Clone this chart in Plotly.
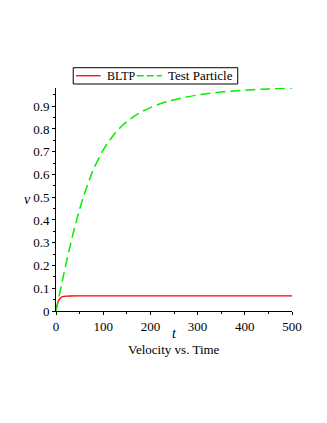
import plotly.graph_objects as go

# velocity readings, test particle (green dashed)
t_test = [0, 5, 10, 15, 20, 30, 40, 50, 60, 70, 80, 100, 120, 140, 160, 180,
          200, 230, 260, 300, 350, 400, 450, 500]
v_test = [0, 0.05, 0.10, 0.148, 0.196, 0.287, 0.371, 0.447, 0.514, 0.573, 0.625,
          0.707, 0.768, 0.814, 0.848, 0.874, 0.894, 0.917, 0.933, 0.949, 0.962,
          0.970, 0.976, 0.980]

# velocity readings, BLTP (red solid)
t_bltp = [0, 1, 2, 3, 5, 7, 10, 13, 16, 20, 25, 30, 40, 60, 100, 200, 300, 400, 500]
v_bltp = [0, 0.012, 0.022, 0.031, 0.043, 0.051, 0.058, 0.062, 0.064, 0.0652,
          0.0658, 0.066, 0.0662, 0.0663, 0.0663, 0.0663, 0.0663, 0.0663, 0.0663]

serif = "Liberation Serif, Times New Roman, serif"
red = '#ff0000'
green = '#00ee00'
dash = '10px,5px'

fig = go.Figure()
fig.add_trace(go.Scatter(x=t_bltp, y=v_bltp, mode='lines', name='BLTP',
                         line=dict(color=red, width=1.3, shape='spline')))
fig.add_trace(go.Scatter(x=t_test, y=v_test, mode='lines', name='Test Particle',
                         line=dict(color=green, width=1.5, dash=dash, shape='spline')))

# hand-drawn legend box (Maple style, tight)
shapes = [
    dict(type='rect', xref='paper', yref='paper', x0=0.073, x1=0.770, y0=1.018, y1=1.091,
         line=dict(color='black', width=1), fillcolor='white'),
    dict(type='line', xref='paper', yref='paper', x0=0.085, x1=0.189, y0=1.055, y1=1.055,
         line=dict(color=red, width=1.3)),
    dict(type='line', xref='paper', yref='paper', x0=0.342, x1=0.448, y0=1.055, y1=1.055,
         line=dict(color=green, width=1.5, dash='7px,3px')),
]

fig.update_layout(
    width=327, height=423,
    margin=dict(l=48, r=43, t=80, b=120),
    paper_bgcolor='white', plot_bgcolor='white',
    font=dict(family=serif, size=13, color='black'),
    showlegend=False,
    shapes=shapes,
    xaxis=dict(range=[0, 500], tick0=0, dtick=100, showgrid=False, zeroline=False,
               showline=True, linecolor='black', linewidth=1,
               ticks='outside', ticklen=3, tickcolor='black',
               minor=dict(dtick=50, ticks='outside', ticklen=2, tickcolor='black'),
               tickfont=dict(family=serif, size=13)),
    yaxis=dict(range=[0, 0.98], tick0=0, dtick=0.1, showgrid=False, zeroline=False,
               showline=True, linecolor='black', linewidth=1,
               ticks='outside', ticklen=3, tickcolor='black',
               minor=dict(dtick=0.05, ticks='outside', ticklen=2, tickcolor='black'),
               tickfont=dict(family=serif, size=13)),
    annotations=[
        dict(text='BLTP', xref='paper', yref='paper', x=0.209, y=1.055,
             xanchor='left', yanchor='middle', showarrow=False,
             font=dict(family=serif, size=12)),
        dict(text='Test Particle', xref='paper', yref='paper', x=0.466, y=1.055,
             xanchor='left', yanchor='middle', showarrow=False,
             font=dict(family=serif, size=13)),
        dict(text='<i>t</i>', xref='paper', yref='paper', x=0.5, y=-0.099,
             yanchor='middle', showarrow=False, font=dict(family=serif, size=14)),
        dict(text='Velocity vs. Time', xref='paper', yref='paper', x=0.5, y=-0.172,
             yanchor='middle', showarrow=False, font=dict(family=serif, size=13)),
        dict(text='<i>v</i>', xref='paper', yref='paper', x=-0.144, y=0.498,
             yanchor='middle', showarrow=False, font=dict(family=serif, size=14)),
    ],
)

fig.write_html("out.html")
